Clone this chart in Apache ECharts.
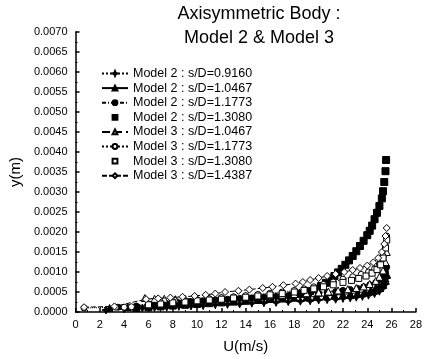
<!DOCTYPE html>
<html><head><meta charset="utf-8">
<script src="https://cdn.jsdelivr.net/npm/echarts@6/dist/echarts.min.js"></script>
<style>html,body{margin:0;padding:0;background:#fff}#c{width:425px;height:359px}</style>
</head><body><div id="c"></div>
<script>
var titleText = "Axisymmetric Body :\nModel 2 & Model 3";
var xName = "U(m/s)";
var yName = "y(m)";
var xTicks = [0,2,4,6,8,10,12,14,16,18,20,22,24,26,28];
var yTicks = [0,0.0005,0.001,0.0015,0.002,0.0025,0.003,0.0035,0.004,0.0045,0.005,0.0055,0.006,0.0065,0.007];
var seriesNames = ["Model 2 : s/D=0.9160","Model 2 : s/D=1.0467","Model 2 : s/D=1.1773","Model 2 : s/D=1.3080",
  "Model 3 : s/D=1.0467","Model 3 : s/D=1.1773","Model 3 : s/D=1.3080","Model 3 : s/D=1.4387"];

var s1U = [2.5,4.0,5.5,6.5,7.5,8.5,9.5,10.5,11.5,12.5,13.5,14.5,15.5,16.5,17.5,18.5,19.3,20.0,20.7,21.4,22.0,22.6,23.1,23.6,24.1,24.6,25.0,25.3,25.5,25.6];
var s1Y = [0.00005,0.00008,0.0001,0.00011,0.00012,0.00014,0.00015,0.00016,0.00018,0.00019,0.0002,0.00022,0.00023,0.00024,0.00026,0.00027,0.00028,0.0003,0.00031,0.00032,0.00034,0.00035,0.00037,0.00039,0.00042,0.00046,0.00052,0.0006,0.0007,0.00085];
var s2U = [2.8,4.3,6.0,7.0,8.0,9.0,10.0,11.0,12.0,13.0,14.0,15.0,16.0,17.0,18.0,19.0,19.8,20.6,21.3,22.0,22.6,23.2,23.8,24.3,24.7,25.0,25.3,25.5,25.6];
var s2Y = [0.0001,0.00012,0.00016,0.00018,0.0002,0.00022,0.00023,0.00025,0.00027,0.00028,0.0003,0.00031,0.00033,0.00034,0.00036,0.00037,0.00039,0.0004,0.00042,0.00044,0.00046,0.00048,0.00051,0.00055,0.0006,0.00065,0.00073,0.00083,0.00095];
var s3U = [3.5,5.0,6.5,7.5,8.5,9.5,10.5,11.5,12.5,13.5,14.5,15.5,16.5,17.5,18.4,19.2,20.0,20.7,21.4,22.0,22.6,23.2,23.7,24.2,24.7,25.1,25.4,25.5,25.6];
var s3Y = [0.00012,0.00015,0.00019,0.00021,0.00023,0.00026,0.00028,0.0003,0.00032,0.00034,0.00035,0.00037,0.00039,0.00041,0.00043,0.00045,0.00047,0.00049,0.00051,0.00054,0.00056,0.00059,0.00063,0.00068,0.00074,0.00081,0.0009,0.001,0.00112];
var s4U = [5.0,6.0,7.0,8.0,9.0,10.0,11.0,12.0,13.0,14.0,15.0,16.0,17.0,17.8,18.6,19.3,19.8,20.2,20.6,21.0,21.3,21.6,21.9,22.2,22.5,22.8,23.1,23.4,23.7,24.0,24.2,24.4,24.6,24.8,25.0,25.2,25.3,25.4,25.5,25.55];
var s4Y = [0.0001,0.00012,0.00014,0.00016,0.00018,0.0002,0.00022,0.00024,0.00026,0.00028,0.0003,0.00033,0.00037,0.00041,0.00046,0.00052,0.00058,0.00065,0.00073,0.00082,0.0009,0.00099,0.00108,0.00118,0.00129,0.0014,0.00152,0.00165,0.00178,0.00192,0.00203,0.00216,0.00232,0.00248,0.00265,0.00284,0.00302,0.00325,0.00352,0.0038];
var s5U = [5.7,6.5,7.3,8.2,9.0,10.0,11.0,12.0,13.0,14.0,15.0,16.0,17.0,18.0,19.0,20.0,20.8,21.6,22.4,23.1,23.7,24.2,24.7,25.0,25.3,25.5,25.6];
var s5Y = [0.00035,0.00033,0.00033,0.00032,0.00033,0.00034,0.00035,0.00036,0.00037,0.00039,0.0004,0.00042,0.00043,0.00045,0.00047,0.00049,0.00051,0.00054,0.00057,0.0006,0.00064,0.0007,0.00078,0.00088,0.00104,0.00125,0.0015];
var s6U = [0.7,3.3,4.0,4.6,6.0,7.0,8.0,9.0,10.0,11.0,12.0,13.0,14.0,15.0,16.0,17.0,18.0,18.8,19.6,20.4,21.2,22.0,22.8,23.5,24.1,24.6,25.0,25.3,25.5,25.6];
var s6Y = [0.0001,0.00012,0.00012,0.00013,0.0002,0.00023,0.00026,0.00028,0.0003,0.00033,0.00036,0.00038,0.00041,0.00044,0.00047,0.0005,0.00054,0.00058,0.00063,0.00069,0.00075,0.00082,0.00088,0.00094,0.001,0.00108,0.0012,0.0014,0.00165,0.0019];
var s7U = [6.0,7.0,8.0,9.0,10.0,11.0,12.0,13.0,14.0,15.0,16.0,17.0,18.0,18.8,19.6,20.4,21.2,22.0,22.7,23.3,23.9,24.4,24.8,25.1,25.3,25.5,25.6];
var s7Y = [0.00018,0.0002,0.00023,0.00025,0.00028,0.0003,0.00032,0.00035,0.00037,0.0004,0.00043,0.00046,0.0005,0.00054,0.00058,0.00063,0.00068,0.00074,0.00079,0.00084,0.0009,0.00097,0.00106,0.00118,0.00135,0.0016,0.0018];
var s8U = [0.7,3.2,5.8,6.8,7.8,8.8,9.8,10.7,11.5,12.3,13.4,14.3,15.4,16.2,17.1,18.1,18.7,19.3,20.0,20.7,21.4,22.1,22.8,23.4,24.0,24.5,24.9,25.2,25.4,25.5,25.6];
var s8Y = [0.00012,0.00014,0.00032,0.00034,0.00036,0.00038,0.0004,0.00043,0.00046,0.0005,0.00053,0.00056,0.0006,0.00063,0.00067,0.00071,0.00075,0.0008,0.00085,0.0009,0.00095,0.001,0.00105,0.0011,0.00116,0.00124,0.00135,0.0015,0.0017,0.0019,0.0021];

var allU = [s1U,s2U,s3U,s4U,s5U,s6U,s7U,s8U];
var allY = [s1Y,s2Y,s3Y,s4Y,s5Y,s6Y,s7Y,s8Y];

function zip(a,b){var r=[];for(var i=0;i<a.length;i++)r.push([a[i],b[i]]);return r;}
var star = 'path://M0,-10 L3,-3 L10,0 L3,3 L0,10 L-3,3 L-10,0 L-3,-3 Z';
var styles = [
  {symbol: star, size:8, fill:'#000', line:'dotted', show:true},
  {symbol:'triangle', size:7, fill:'#000', line:'solid', show:true},
  {symbol:'circle', size:6, fill:'#000', line:[4,2,1,2], show:true},
  {symbol:'rect', size:7, fill:'#000', line:'solid', show:false},
  {symbol:'triangle', size:7, fill:'#fff', line:'dashed', show:true},
  {symbol:'circle', size:6, fill:'#fff', line:'dotted', show:true},
  {symbol:'rect', size:6, fill:'#fff', line:'solid', show:false},
  {symbol:'diamond', size:7, fill:'#fff', line:[5,2], show:true}
];
var series = seriesNames.map(function(n,i){
  var s = styles[i];
  return {
    name:n, type:'line', data: zip(allU[i], allY[i]),
    symbol:s.symbol, symbolSize:s.size, showAllSymbol:true,
    itemStyle:{color:s.fill, borderColor:'#000', borderWidth:1},
    lineStyle:{color:'#000', width:1, type:s.line, opacity: s.show?1:0},
    animation:false, z: i
  };
});

var chart = echarts.init(document.getElementById('c'), null, {renderer:'canvas'});
chart.setOption({
  backgroundColor:'#fff',
  animation:false,
  title:{text:titleText, left:254, top:-3, textAlign:'center',
    textStyle:{fontFamily:'Liberation Sans', fontSize:18, fontWeight:'normal', color:'#000', lineHeight:24}},
  legend:{orient:'vertical', left:96, top:62, itemWidth:26, itemHeight:6, itemGap:1.6,
    textStyle:{fontFamily:'Liberation Sans', fontSize:12.5, color:'#000', lineHeight:11},
    data: seriesNames},
  grid:{left:71, right:7, top:32, bottom:43, containLabel:false},
  xAxis:{type:'value', min:0, max:28, interval:2, name:xName, nameLocation:'middle', nameGap:27,
    nameTextStyle:{fontFamily:'Liberation Sans', fontSize:15, color:'#000'},
    axisLine:{lineStyle:{color:'#000', width:1.5}},
    axisTick:{inside:true, length:4, lineStyle:{color:'#000', width:1.5}},
    minorTick:{show:true, splitNumber:2, length:2, lineStyle:{color:'#000'}},
    splitLine:{show:false},
    axisLabel:{fontFamily:'Liberation Sans', fontSize:11, color:'#000', margin:7,
      formatter:function(v){return xTicks.indexOf(v)>=0? String(v):'';}}},
  yAxis:{type:'value', min:0, max:0.007, interval:0.0005, name:yName, nameLocation:'middle', nameGap:52, nameRotate:90,
    nameTextStyle:{fontFamily:'Liberation Sans', fontSize:15, color:'#000'},
    axisLine:{show:true, lineStyle:{color:'#000', width:1.5}},
    axisTick:{inside:true, length:4, lineStyle:{color:'#000', width:1.5}},
    minorTick:{show:true, splitNumber:2, length:2, lineStyle:{color:'#000'}},
    splitLine:{show:false},
    axisLabel:{fontFamily:'Liberation Sans', fontSize:11, color:'#000', margin:8,
      formatter:function(v){return v.toFixed(4);}}},
  series: series
});
</script></body></html>
